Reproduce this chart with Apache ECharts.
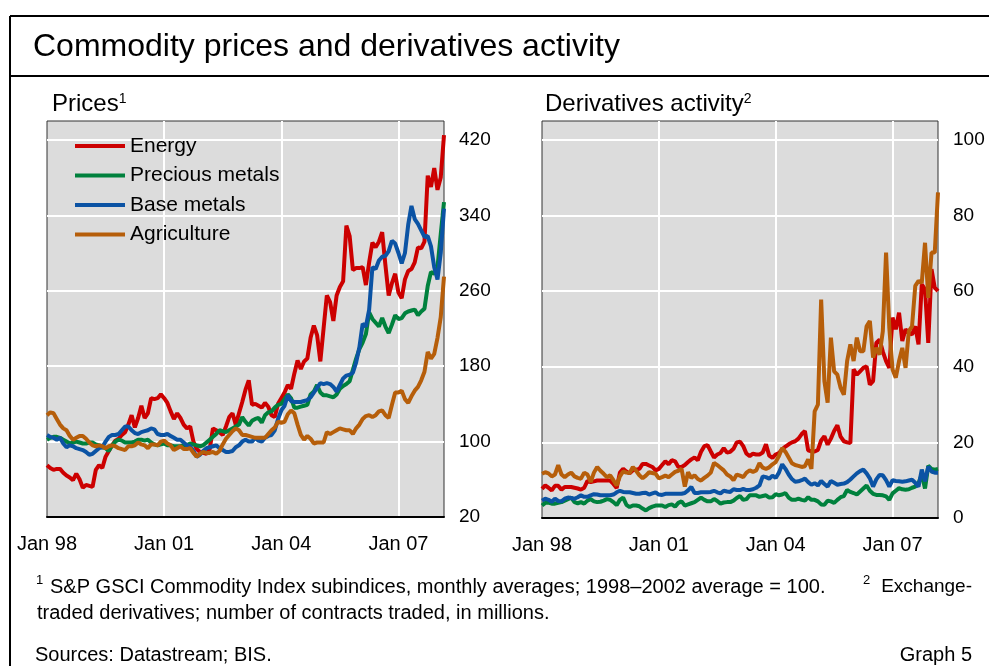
<!DOCTYPE html>
<html>
<head>
<meta charset="utf-8">
<title>Commodity prices and derivatives activity</title>
<script src="https://cdn.jsdelivr.net/npm/echarts@6/dist/echarts.min.js"></script>
<style>
  html, body { margin: 0; padding: 0; background: #fff; }
  #chart { width: 989px; height: 666px; }
</style>
</head>
<body>
<div id="chart"></div>
<script>
// monthly, Jan 1998 - Mar 2008
const monthNames = ['Jan','Feb','Mar','Apr','May','Jun','Jul','Aug','Sep','Oct','Nov','Dec']
const months = []
for (let i = 0; i < 123; i++) {
  const yy = (98 + Math.floor(i / 12)) % 100
  months.push(monthNames[i % 12] + ' ' + (yy < 10 ? '0' + yy : '' + yy))
}

const seriesNames = ['Energy', 'Precious metals', 'Base metals', 'Agriculture']
const colors = ['#cc0000', '#00813d', '#0b53a4', '#b65e0a']

// Prices, 1998-2002 average = 100
const pxEnergy = [
  75,72,70,71,71,67,64,62,59,66,
  60,51,54,53,52,70,75,72,84,90,
  96,101,103,107,110,118,128,115,125,138,
  125,130,146,145,146,150,146,141,132,124,
  130,125,118,114,116,100,92,89,88,87,
  92,114,112,110,107,116,126,130,118,130,
  142,155,165,139,140,138,136,141,137,128,
  126,140,146,152,160,156,172,186,177,185,
  188,210,223,213,185,220,255,248,228,255,
  264,270,329,318,282,284,284,285,266,290,
  311,306,312,322,287,255,268,278,258,252,
  272,281,283,290,306,305,312,382,370,390,
  367,380,425
]
const pxPrecious = [
  102,104,105,105,104,102,100,98,99,100,
  99,98,98,99,99,97,96,94,93,90,
  96,100,102,101,99,99,99,100,102,102,
  101,102,99,97,96,97,98,96,96,95,
  95,95,96,96,98,97,96,95,96,99,
  102,105,108,112,111,110,112,114,116,118,
  126,121,117,122,124,125,120,128,131,132,
  136,139,140,145,150,146,136,136,137,138,
  139,150,153,160,152,149,149,148,147,150,
  156,159,161,164,176,188,198,205,214,237,
  230,226,222,231,222,215,224,234,230,231,
  236,238,239,240,234,238,241,265,280,278,
  285,320,354
]
const pxBase = [
  107,105,104,102,104,98,94,96,95,93,
  92,91,89,86,87,90,93,94,100,105,
  107,107,108,112,116,116,112,109,108,110,
  111,112,114,113,108,107,107,108,106,104,
  102,102,99,96,95,90,84,86,90,93,
  94,95,96,93,91,89,89,90,94,96,
  100,102,100,100,104,101,100,104,106,107,
  112,124,133,138,149,143,142,142,142,143,
  144,147,152,157,162,161,162,161,158,153,
  160,167,170,171,173,184,200,225,222,240,
  285,283,292,296,297,302,313,310,300,289,
  300,330,350,336,331,324,317,318,307,285,
  272,300,347
]
const pxAgri = [
  128,131,130,124,118,114,112,106,102,104,
  106,106,103,99,96,95,96,95,93,95,
  96,95,93,92,91,95,95,96,99,97,
  96,93,97,97,96,100,101,98,96,91,
  93,95,92,92,93,88,84,87,89,88,
  88,89,87,90,97,103,107,111,114,112,
  107,107,106,105,104,104,104,104,108,112,
  115,121,120,121,129,133,130,118,107,102,
  106,103,98,99,99,99,110,108,110,112,
  114,113,112,112,108,114,118,124,127,128,
  126,128,132,133,128,125,139,152,152,154,
  145,141,148,154,158,165,174,195,188,193,
  210,232,275
]

// Exchange-traded derivatives, contracts traded in millions
const dvEnergy = [
  7.7,8.6,8.0,7.3,8.5,8.5,7.5,8.2,8.2,8.2,
  8.0,7.8,7.5,8.0,9.8,9.5,9.7,9.9,9.9,9.9,
  9.9,9.9,9.0,7.9,12.0,13.0,12.3,11.8,12.6,12.8,
  13.0,14.3,14.3,13.9,13.5,12.6,13.0,14.0,15.0,14.2,
  15.3,15.0,13.5,13.5,14.0,14.8,15.5,16.0,15.3,17.5,
  19.0,19.3,17.6,16.0,16.8,17.2,18.5,17.3,17.5,18.3,
  20.0,20.2,19.0,17.0,16.4,17.0,16.8,16.8,17.3,19.5,
  16.5,15.9,16.8,17.2,18.2,18.9,19.5,20.0,20.3,21.0,
  22.2,23.0,17.9,17.6,17.6,18.0,20.5,21.6,19.4,21.0,
  23.0,24.5,21.5,20.3,20.0,19.8,39.3,37.9,38.8,39.7,
  40.1,35.3,36.2,46.3,47.2,44.0,41.5,39.7,53.0,49.9,
  54.3,46.8,49.9,49.0,48.5,50.7,45.9,61.8,60.5,46.3,
  65.8,60.9,60.0
]
const dvPrecious = [
  3.3,4.0,4.1,3.8,3.8,4.0,4.2,4.6,5.0,5.4,
  4.2,3.9,4.2,3.8,4.6,5.0,4.4,4.2,4.3,4.6,
  5.0,4.8,4.2,3.4,4.8,5.4,3.5,2.9,3.3,3.3,
  3.1,2.5,2.0,2.6,3.0,3.3,3.3,3.3,2.9,3.4,
  3.6,3.0,4.0,4.4,3.3,3.6,3.9,4.2,4.8,5.4,
  4.8,4.4,4.4,5.0,4.5,3.8,4.1,4.2,4.2,4.6,
  5.3,5.8,4.8,5.0,6.0,6.0,6.0,5.6,5.8,6.0,
  5.4,5.5,6.3,6.0,6.2,6.6,5.4,4.8,4.8,5.1,
  4.8,4.6,5.5,4.8,4.8,4.4,3.6,3.5,4.6,4.4,
  4.0,4.8,5.5,5.8,7.4,6.9,6.6,6.2,7.0,7.8,
  8.6,7.2,6.4,6.1,6.1,6.0,5.7,4.8,6.5,7.2,
  7.9,7.6,7.5,7.6,8.0,8.3,9.2,11.5,7.8,13.8,
  13.0,12.8,13.0
]
const dvBase = [
  4.6,5.1,4.8,4.3,5.1,4.5,4.4,5.1,5.4,5.3,
  5.1,5.5,6.0,5.6,5.6,6.0,6.3,6.2,6.0,6.0,
  6.0,6.0,6.2,6.8,7.2,6.9,6.8,6.8,6.6,6.4,
  6.4,6.6,6.7,6.2,6.5,6.8,6.2,6.1,6.4,6.4,
  6.4,6.4,6.4,6.4,6.6,7.3,8.2,6.6,6.6,6.8,
  6.8,6.8,6.9,7.2,6.8,6.5,7.2,7.0,6.9,7.6,
  7.4,7.4,7.7,7.4,7.4,7.6,8.0,8.6,11.0,10.8,
  10.4,11.2,10.6,12.0,14.2,13.0,11.5,10.3,9.6,9.7,
  10.0,10.4,9.5,8.8,9.2,8.6,9.8,9.0,8.3,9.8,
  9.3,8.8,9.0,9.1,9.5,10.2,11.0,11.8,12.4,12.8,
  11.8,10.5,8.3,10.2,11.4,11.3,10.0,8.3,10.0,9.8,
  9.7,9.6,9.7,9.9,10.1,9.3,8.3,12.8,9.7,13.6,
  12.3,12.0,12.0
]
const dvAgri = [
  11.7,12.1,11.8,11.0,11.5,14.0,11.5,10.8,11.5,12.0,
  11.0,10.6,10.4,12.0,11.5,9.5,12.0,13.5,12.5,11.7,
  10.8,11.3,10.0,8.6,11.0,12.3,12.0,11.9,13.5,12.5,
  11.3,10.5,11.2,12.1,11.9,11.7,10.5,10.8,11.2,10.8,
  11.5,12.2,12.5,13.0,8.3,12.1,10.6,11.3,10.3,9.9,
  10.6,11.2,12.0,14.6,14.0,13.3,12.6,11.5,11.0,10.0,
  11.5,11.2,10.8,12.0,12.6,12.2,12.6,14.5,13.3,13.0,
  13.4,14.2,14.8,16.4,18.5,17.5,16.0,14.5,14.0,13.8,
  13.5,13.7,15.5,13.0,28.2,30.0,57.8,36.2,30.5,47.7,
  38.8,37.9,34.4,32.6,41.5,45.9,41.5,47.7,44.1,44.1,
  50.7,52.1,42.4,45.0,43.2,49.4,70.2,50.3,39.3,37.1,
  41.5,45.0,39.7,49.4,50.7,61.4,62.7,62.2,72.8,58.2,
  70.2,70.2,86.1
]

const FONT = 'Liberation Sans, Arial, Helvetica, sans-serif'
const chart = echarts.init(document.getElementById('chart'), null, { renderer: 'canvas' })

const everyThreeYears = function (idx) { return idx % 36 === 0 }

function xAxisFor(gridIndex) {
  return {
    type: 'category',
    gridIndex: gridIndex,
    data: months,
    boundaryGap: false,
    axisLine: { show: true, lineStyle: { color: '#000', width: 2 } },
    axisTick: { show: false },
    axisLabel: { interval: everyThreeYears, color: '#000', fontSize: 20, fontFamily: FONT, margin: 17 },
    splitLine: { show: true, interval: everyThreeYears, showMinLine: false, lineStyle: { color: '#fff', width: 2 } }
  }
}

function yAxisFor(gridIndex, min, max, interval) {
  return {
    type: 'value',
    gridIndex: gridIndex,
    position: 'right',
    min: min,
    max: max,
    interval: interval,
    axisLine: { show: false },
    axisTick: { show: false },
    axisLabel: { showMaxLabel: false, color: '#000', fontSize: 19, fontFamily: FONT, margin: 15 },
    splitLine: { show: true, showMinLine: false, showMaxLine: false, lineStyle: { color: '#fff', width: 2 } }
  }
}

function lines(list, axisIdx) {
  return list.map(function (data, i) {
    return {
      name: seriesNames[i],
      type: 'line',
      xAxisIndex: axisIdx,
      yAxisIndex: axisIdx,
      data: data,
      showSymbol: false,
      symbol: 'none',
      lineStyle: { color: colors[i], width: 4 },
      itemStyle: { color: colors[i] },
      z: 3
    }
  })
}

const supStyle = { fontSize: 14, fontFamily: FONT, fill: '#000', verticalAlign: 'top' }

const option = {
  animation: false,
  textStyle: { fontFamily: FONT },
  legend: {
    data: seriesNames,
    orient: 'vertical',
    left: 75,
    top: 135,
    padding: 0,
    itemWidth: 50,
    itemHeight: 4,
    itemGap: 7.5,
    icon: 'rect',
    textStyle: { color: '#000', fontSize: 21, fontFamily: FONT, lineHeight: 22 }
  },
  grid: [
    { left: 47, top: 121, width: 397, height: 396, show: true, backgroundColor: '#dcdcdc', borderColor: '#333', borderWidth: 1 },
    { left: 542, top: 121, width: 396, height: 397, show: true, backgroundColor: '#dcdcdc', borderColor: '#333', borderWidth: 1 }
  ],
  xAxis: [xAxisFor(0), xAxisFor(1)],
  yAxis: [yAxisFor(0, 20, 440, 80), yAxisFor(1, 0, 105, 20)],
  series: lines([pxEnergy, pxPrecious, pxBase, pxAgri], 0)
    .concat(lines([dvEnergy, dvPrecious, dvBase, dvAgri], 1)),
  graphic: [
    // frame
    { type: 'line', shape: { x1: 10, y1: 16, x2: 989, y2: 16 }, style: { stroke: '#000', lineWidth: 2 } },
    { type: 'line', shape: { x1: 10, y1: 16, x2: 10, y2: 666 }, style: { stroke: '#000', lineWidth: 2 } },
    { type: 'line', shape: { x1: 10, y1: 76, x2: 989, y2: 76 }, style: { stroke: '#000', lineWidth: 2 } },
    {
      type: 'text', x: 33, y: 47,
      style: { text: 'Commodity prices and derivatives activity', fill: '#000', fontSize: 32, fontFamily: FONT, verticalAlign: 'middle' }
    },
    {
      type: 'text', x: 52, y: 104,
      style: {
        text: '{t|Prices}{s|1}', verticalAlign: 'middle',
        rich: { t: { fontSize: 24, fontFamily: FONT, fill: '#000' }, s: supStyle }
      }
    },
    {
      type: 'text', x: 545, y: 104,
      style: {
        text: '{t|Derivatives activity}{s|2}', verticalAlign: 'middle',
        rich: { t: { fontSize: 24, fontFamily: FONT, fill: '#000' }, s: supStyle }
      }
    },
    // footnotes
    { type: 'text', x: 36, y: 580, style: { text: '1', fill: '#000', fontSize: 13, fontFamily: FONT, verticalAlign: 'middle' } },
    {
      type: 'text', x: 50, y: 587,
      style: { text: 'S&P GSCI Commodity Index subindices, monthly averages; 1998\u20132002 average = 100.', fill: '#000', fontSize: 20, fontFamily: FONT, verticalAlign: 'middle' }
    },
    { type: 'text', x: 863, y: 580, style: { text: '2', fill: '#000', fontSize: 13, fontFamily: FONT, verticalAlign: 'middle' } },
    {
      type: 'text', x: 972, y: 587,
      style: { text: 'Exchange-', fill: '#000', fontSize: 19, fontFamily: FONT, align: 'right', verticalAlign: 'middle' }
    },
    {
      type: 'text', x: 37, y: 613,
      style: { text: 'traded derivatives; number of contracts traded, in millions.', fill: '#000', fontSize: 20, fontFamily: FONT, verticalAlign: 'middle' }
    },
    {
      type: 'text', x: 35, y: 655,
      style: { text: 'Sources: Datastream; BIS.', fill: '#000', fontSize: 20, fontFamily: FONT, verticalAlign: 'middle' }
    },
    {
      type: 'text', x: 972, y: 655,
      style: { text: 'Graph 5', fill: '#000', fontSize: 20, fontFamily: FONT, align: 'right', verticalAlign: 'middle' }
    }
  ]
}

chart.setOption(option)
</script>
</body>
</html>
